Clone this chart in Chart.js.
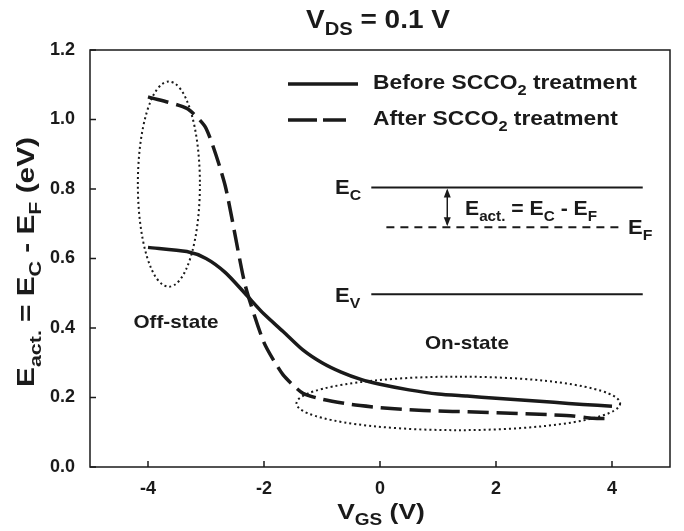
<!DOCTYPE html>
<html>
<head>
<meta charset="utf-8">
<script src="https://cdn.jsdelivr.net/npm/chart.js@4.4.1/dist/chart.umd.min.js"></script>
<style>
  html,body{margin:0;padding:0;background:#fff;}
  #wrap{width:684px;height:531px;}
</style>
</head>
<body>
<div id="wrap"><canvas id="c"></canvas></div>
<script>
// data
const beforeX=[-4,-3.33,-3,-2.67,-2.33,-2,-1.67,-1.33,-1,-0.67,-0.33,0,0.5,1,1.5,2,2.5,3,3.5,4];
const beforeY=[0.632,0.62,0.60,0.56,0.50,0.44,0.39,0.337,0.30,0.273,0.252,0.238,0.222,0.21,0.204,0.198,0.192,0.186,0.18,0.175];
const afterX=[-4,-3.33,-3,-2.67,-2.33,-2,-1.67,-1.33,-1,-0.5,0,0.5,1,1.5,2,2.5,3,3.33,3.67,4];
const afterY=[1.065,1.032,0.975,0.81,0.527,0.358,0.265,0.212,0.195,0.18,0.171,0.165,0.161,0.159,0.156,0.153,0.15,0.147,0.14,0.139];
const xTicks=[-4,-2,0,2,4];
const yTicks=[0,0.2,0.4,0.6,0.8,1.0,1.2];

const ink='#1a1a1a';
const font='"Liberation Sans", Arial, sans-serif';

const pts=(xs,ys)=>xs.map((x,i)=>({x,y:ys[i]}));

// text made of parts, some subscripted; sx stretches it sideways like the scan
function rich(ctx,parts,x,y,size,align,sx){
  sx=sx||1;
  const w=parts.reduce((s,p)=>{ctx.font='bold '+(p.sub?size*0.72:size)+'px '+font;return s+ctx.measureText(p.t).width;},0)*sx;
  const x0=align==='center'?x-w/2:(align==='right'?x-w:x);
  ctx.save();ctx.translate(x0,y);ctx.scale(sx,1);
  ctx.textBaseline='alphabetic';ctx.textAlign='left';
  let cx=0;
  parts.forEach(p=>{
    ctx.font='bold '+(p.sub?size*0.72:size)+'px '+font;
    ctx.fillText(p.t,cx,p.sub?size*0.28:0);
    cx+=ctx.measureText(p.t).width;
  });
  ctx.restore();
}

const deco={
  id:'deco',
  afterDraw(chart){
    const {ctx,chartArea:a,scales:{x,y}}=chart;
    ctx.save();
    ctx.fillStyle=ink;ctx.strokeStyle=ink;
    // frame
    ctx.lineWidth=1.5;ctx.setLineDash([]);
    ctx.strokeRect(a.left,a.top,a.right-a.left,a.bottom-a.top);
    // inward ticks
    xTicks.forEach(v=>{const px=x.getPixelForValue(v);ctx.beginPath();ctx.moveTo(px,a.bottom);ctx.lineTo(px,a.bottom-6);ctx.stroke();});
    yTicks.forEach(v=>{const py=y.getPixelForValue(v);ctx.beginPath();ctx.moveTo(a.left,py);ctx.lineTo(a.left+6,py);ctx.stroke();});

    // title and axis titles
    rich(ctx,[{t:'V'},{t:'DS',sub:true},{t:' = 0.1 V'}],378,28,25,'center',1.12);
    rich(ctx,[{t:'V'},{t:'GS',sub:true},{t:' (V)'}],381,519,22,'center',1.2);
    ctx.save();ctx.translate(34,262);ctx.rotate(-Math.PI/2);
    rich(ctx,[{t:'E'},{t:'act.',sub:true},{t:' = E'},{t:'C',sub:true},{t:' - E'},{t:'F',sub:true},{t:' (eV)'}],0,0,24,'center',1.24);
    ctx.restore();

    // legend
    ctx.lineWidth=3.5;
    ctx.beginPath();ctx.moveTo(288,84);ctx.lineTo(358,84);ctx.stroke();
    ctx.setLineDash([29,6]);
    ctx.beginPath();ctx.moveTo(288,120);ctx.lineTo(346,120);ctx.stroke();
    ctx.setLineDash([]);
    rich(ctx,[{t:'Before SCCO'},{t:'2',sub:true},{t:' treatment'}],373,89,20,'left',1.14);
    rich(ctx,[{t:'After SCCO'},{t:'2',sub:true},{t:' treatment'}],373,125,20,'left',1.14);

    // dotted ellipses
    ctx.lineWidth=2;ctx.setLineDash([2,3]);
    [[-3.64,0.814,0.535,0.295],[1.35,0.183,2.79,0.077]].forEach(([cx,cy,rx,ry])=>{
      const px=x.getPixelForValue(cx),py=y.getPixelForValue(cy);
      const rpx=Math.abs(x.getPixelForValue(cx+rx)-px),rpy=Math.abs(y.getPixelForValue(cy+ry)-py);
      ctx.beginPath();ctx.ellipse(px,py,rpx,rpy,0,0,Math.PI*2);ctx.stroke();
    });
    ctx.setLineDash([]);
    rich(ctx,[{t:'Off-state'}],176,328,19,'center',1.09);
    rich(ctx,[{t:'On-state'}],467,349,19,'center',1.09);

    // band diagram
    const ec=y.getPixelForValue(0.804),ef=y.getPixelForValue(0.69),ev=y.getPixelForValue(0.497);
    const l=x.getPixelForValue(-0.15),r=x.getPixelForValue(4.53);
    ctx.lineWidth=2;
    ctx.beginPath();ctx.moveTo(l,ec);ctx.lineTo(r,ec);ctx.moveTo(l,ev);ctx.lineTo(r,ev);ctx.stroke();
    ctx.setLineDash([8,6]);
    ctx.beginPath();ctx.moveTo(x.getPixelForValue(0.11),ef);ctx.lineTo(x.getPixelForValue(4.13),ef);ctx.stroke();
    ctx.setLineDash([]);
    const ax=x.getPixelForValue(1.16);
    ctx.lineWidth=1.5;
    ctx.beginPath();ctx.moveTo(ax,ec+3);ctx.lineTo(ax,ef-3);ctx.stroke();
    [[ec+1,1],[ef-1,-1]].forEach(([py,d])=>{
      ctx.beginPath();ctx.moveTo(ax,py);ctx.lineTo(ax-3.5,py+9*d);ctx.lineTo(ax+3.5,py+9*d);ctx.closePath();ctx.fill();
    });
    rich(ctx,[{t:'E'},{t:'C',sub:true}],335,194,20,'left',1.1);
    rich(ctx,[{t:'E'},{t:'V',sub:true}],335,302,20,'left',1.1);
    rich(ctx,[{t:'E'},{t:'F',sub:true}],628,234,20,'left',1.1);
    rich(ctx,[{t:'E'},{t:'act.',sub:true},{t:' = E'},{t:'C',sub:true},{t:' - E'},{t:'F',sub:true}],465,215,20,'left',1.06);
    ctx.restore();
  }
};

new Chart(document.getElementById('c'),{
  type:'scatter',
  data:{datasets:[
    {label:'Before SCCO2 treatment',data:pts(beforeX,beforeY),showLine:true,borderColor:ink,borderWidth:3.5,pointRadius:0,tension:0.25,borderJoinStyle:'round'},
    {label:'After SCCO2 treatment',data:pts(afterX,afterY),showLine:true,borderColor:ink,borderWidth:3.5,borderDash:[21,8],pointRadius:0,tension:0.2}
  ]},
  options:{
    responsive:true,maintainAspectRatio:false,animation:false,
    layout:{padding:{top:50,right:14,left:0,bottom:0}},
    plugins:{legend:{display:false},tooltip:{enabled:false}},
    scales:{
      x:{type:'linear',min:-5,max:5,
        afterBuildTicks:s=>{s.ticks=xTicks.map(v=>({value:v}));},
        afterFit:s=>{s.height=64;},
        grid:{display:false},border:{display:false},
        ticks:{color:ink,font:{family:font,size:18,weight:'bold'},padding:3}},
      y:{min:0,max:1.2,
        afterBuildTicks:s=>{s.ticks=yTicks.map(v=>({value:v}));},
        afterFit:s=>{s.width=90;},
        grid:{display:false},border:{display:false},
        ticks:{color:ink,font:{family:font,size:18,weight:'bold'},padding:7,callback:v=>v.toFixed(1)}}
    }
  },
  plugins:[deco]
});
</script>
</body>
</html>
